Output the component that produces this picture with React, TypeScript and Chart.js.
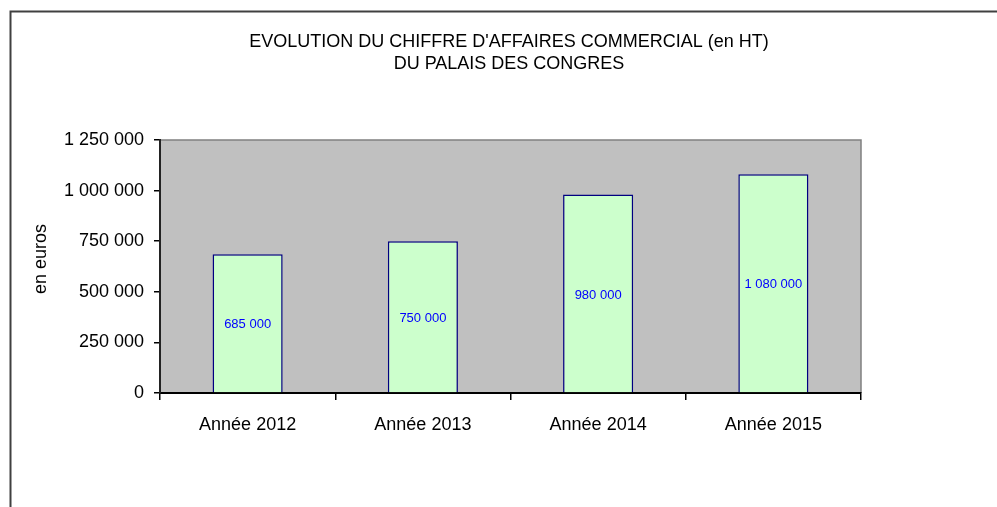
import React, { useEffect, useRef } from "react";
import { Chart, registerables } from "chart.js";

Chart.register(...registerables);

const categories: string[] = ["Année 2012", "Année 2013", "Année 2014", "Année 2015"];
const revenue: number[] = [685000, 750000, 980000, 1080000];
const titleLines: string[] = ["EVOLUTION DU CHIFFRE D'AFFAIRES COMMERCIAL (en HT)", "DU PALAIS DES CONGRES"];
const yAxisTitle = "   en euros";
const yMin = 0;
const yMax = 1250000;
const yStep = 250000;

const FONT = 'Arial, "Liberation Sans", sans-serif';

const fmt = (v: number) => String(Math.round(v)).replace(/\B(?=(\d{3})+(?!\d))/g, " ");

const framePlugin = {
  id: "frame",
  beforeDraw(chart: any) {
    const { ctx, chartArea, width, height } = chart;
    ctx.save();
    ctx.fillStyle = "#ffffff";
    ctx.fillRect(0, 0, width, height);
    ctx.fillStyle = "#c0c0c0";
    ctx.fillRect(chartArea.left, chartArea.top, chartArea.right - chartArea.left, chartArea.bottom - chartArea.top);
    ctx.strokeStyle = "#808080";
    ctx.lineWidth = 1.5;
    ctx.beginPath();
    ctx.moveTo(chartArea.left, chartArea.top);
    ctx.lineTo(chartArea.right, chartArea.top);
    ctx.lineTo(chartArea.right, chartArea.bottom);
    ctx.stroke();
    ctx.restore();
  },
  afterDraw(chart: any) {
    const { ctx, width, height } = chart;
    ctx.save();
    ctx.strokeStyle = "#404040";
    ctx.lineWidth = 2;
    ctx.beginPath();
    ctx.moveTo(10.5, height);
    ctx.lineTo(10.5, 11.5);
    ctx.lineTo(width, 11.5);
    ctx.stroke();
    ctx.restore();
  },
};

const valueLabelPlugin = {
  id: "valueLabels",
  afterDatasetsDraw(chart: any) {
    const { ctx } = chart;
    const meta = chart.getDatasetMeta(0);
    const data = chart.data.datasets[0].data as number[];
    ctx.save();
    ctx.font = `13px ${FONT}`;
    ctx.fillStyle = "#0000ff";
    ctx.textAlign = "center";
    ctx.textBaseline = "middle";
    meta.data.forEach((el: any, i: number) => {
      const p = el.getProps(["x", "y", "base"], true);
      ctx.fillText(fmt(data[i]), p.x, (p.y + p.base) / 2 + 1.5);
    });
    ctx.restore();
  },
};

export default function App() {
  const ref = useRef<HTMLCanvasElement | null>(null);
  useEffect(() => {
    if (!ref.current) return;
    const chart = new Chart(ref.current, {
      type: "bar",
      data: {
        labels: categories,
        datasets: [
          {
            data: revenue,
            backgroundColor: "#ccffcc",
            borderColor: "#000080",
            borderWidth: 1.5,
            barPercentage: 0.4,
            categoryPercentage: 1,
          },
        ],
      },
      options: {
        responsive: false,
        animation: false,
        devicePixelRatio: 1,
        layout: { padding: { left: 21, right: 0, top: 0, bottom: 0 } },
        plugins: {
          legend: { display: false },
          tooltip: { enabled: false },
          title: {
            display: true,
            text: titleLines,
            color: "#000000",
            font: { family: FONT, size: 18, weight: "normal", lineHeight: 1.26 },
            padding: { top: 30.5, bottom: 64.1 },
          },
        },
        scales: {
          x: {
            type: "category",
            offset: true,
            grid: {
              offset: true,
              drawOnChartArea: false,
              drawTicks: true,
              tickLength: 7,
              tickColor: "#000000",
              lineWidth: 1.5,
            },
            border: { display: true, color: "#000000", width: 2 },
            ticks: { color: "#000000", font: { family: FONT, size: 18 }, padding: 14, maxRotation: 0 },
            afterFit(scale: any) {
              scale.height = 114;
            },
          },
          y: {
            min: yMin,
            max: yMax,
            grid: {
              drawOnChartArea: false,
              drawTicks: true,
              tickLength: 6,
              tickColor: "#000000",
              lineWidth: 1.5,
            },
            border: { display: true, color: "#222222", width: 2 },
            ticks: {
              stepSize: yStep,
              color: "#000000",
              font: { family: FONT, size: 18 },
              padding: 10,
              callback: (v: any) => fmt(Number(v)),
            },
            title: {
              display: true,
              text: yAxisTitle,
              color: "#000000",
              font: { family: FONT, size: 18 },
              padding: { top: 9, bottom: 0 },
            },
            afterFit(scale: any) {
              scale.width = 139;
            },
          },
          y2: {
            position: "right",
            display: true,
            grid: { display: false, drawTicks: false },
            border: { display: false },
            ticks: { display: false },
            afterFit(scale: any) {
              scale.width = 136;
            },
          },
        },
      },
      plugins: [framePlugin, valueLabelPlugin],
    } as any);
    return () => chart.destroy();
  }, []);
  return (
    <div style={{ position: "absolute", left: 0, top: 0, width: 997, height: 507, overflow: "hidden" }}>
      <canvas ref={ref} width={997} height={507} style={{ display: "block", width: 997, height: 507 }} />
    </div>
  );
}
